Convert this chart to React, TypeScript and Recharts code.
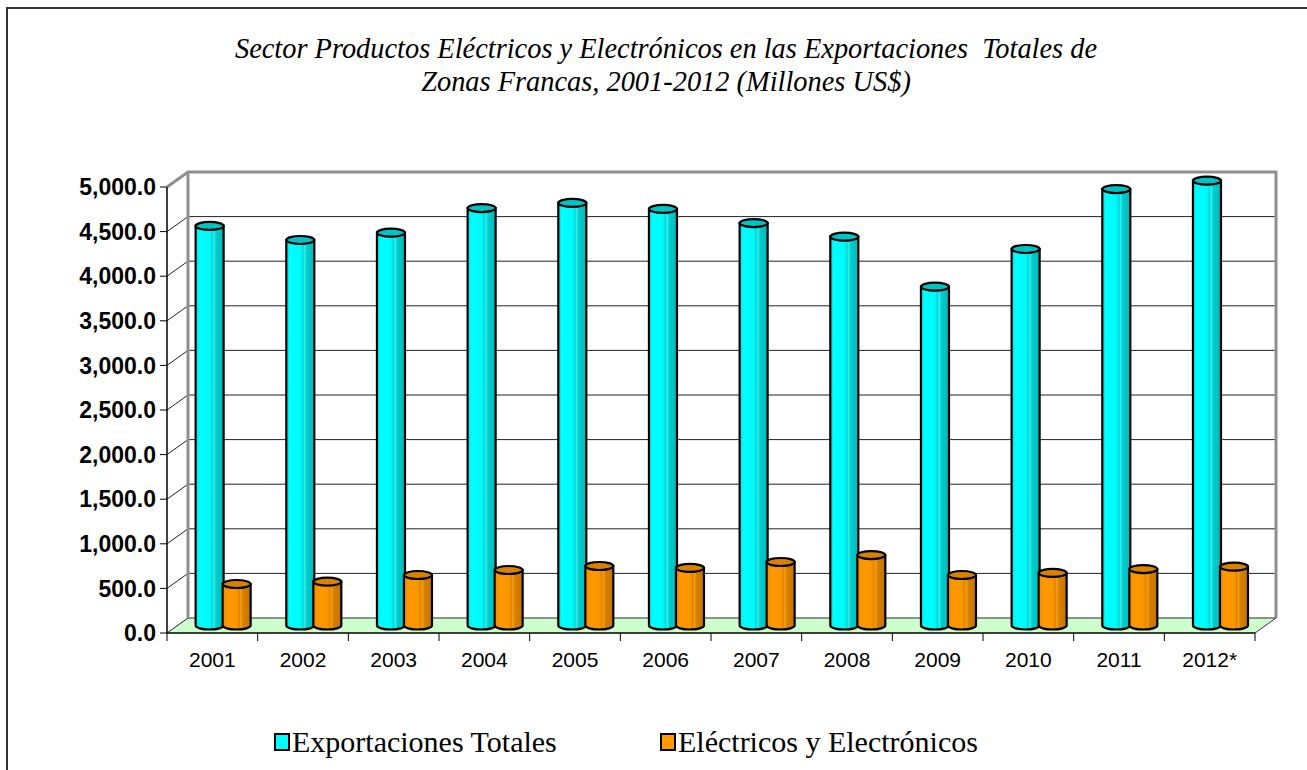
import React from 'react';
import { BarChart, Bar, XAxis, YAxis, ReferenceArea, Legend } from 'recharts';

// ---------- data ----------
const years = ['2001', '2002', '2003', '2004', '2005', '2006', '2007', '2008', '2009', '2010', '2011', '2012*'];
const exportacionesTotales = [4479, 4322, 4404, 4680, 4737, 4670, 4512, 4359, 3798, 4221, 4893, 4987];
const electricosElectronicos = [465, 491, 566, 622, 667, 645, 712, 790, 566, 589, 633, 659];
const yTicks = [0, 500, 1000, 1500, 2000, 2500, 3000, 3500, 4000, 4500, 5000];
const seriesNames = ['Exportaciones Totales', 'Eléctricos y Electrónicos'];
const titleLines = [
  'Sector Productos Eléctricos y Electrónicos en las Exportaciones  Totales de',
  'Zonas Francas, 2001-2012 (Millones US$)',
];

const data = years.map((year, i) => ({
  year,
  total: exportacionesTotales[i],
  elec: electricosElectronicos[i],
}));

// ---------- layout ----------
const W = 1307;
const H = 770;
const X_AXIS_H = 40;
const MARGIN = { top: 187, right: 52, bottom: 137 - X_AXIS_H, left: 0 };
const Y_AXIS_W = 167;
const PLOT_W = W - MARGIN.right - Y_AXIS_W;
const DX = 21; // depth offset (front -> back wall)
const DY = 15;
const BDX = DX / 2; // bars sit mid-depth
const BDY = DY / 2;
const Y_MAX = 5000;
const WALL_GRAY = '#8f8f8f';
const LEG_X = [274, 660];

const fmt = (v: number) =>
  v.toLocaleString('en-US', { minimumFractionDigits: 1, maximumFractionDigits: 1 });

// 3D box: back wall, floor, left wall
const Box3D = (props: any) => {
  const { x, y, width, height } = props;
  const x2 = x + width;
  const yb = y + height;
  const gy = (v: number) => y + height * (1 - v / Y_MAX);
  return (
    <g>
      <polygon
        points={`${x},${yb} ${x2},${yb} ${x2 + DX},${yb - DY} ${x + DX},${yb - DY}`}
        fill="#ccffcc"
        stroke="none"
      />
      {yTicks
        .filter((v) => v > 0 && v < Y_MAX)
        .map((v) => (
          <line key={'g' + v} x1={x + DX} y1={gy(v) - DY} x2={x2 + DX} y2={gy(v) - DY} stroke="#222" strokeWidth={1} />
        ))}
      {yTicks
        .filter((v) => v < Y_MAX)
        .map((v) => (
          <line key={'d' + v} x1={x} y1={gy(v)} x2={x + DX} y2={gy(v) - DY} stroke="#222" strokeWidth={1} />
        ))}
      <line x1={x + DX} y1={yb - DY} x2={x2 + DX} y2={yb - DY} stroke={WALL_GRAY} strokeWidth={2} />
      <polyline
        points={`${x},${y} ${x + DX},${y - DY} ${x2 + DX},${y - DY} ${x2 + DX},${yb - DY}`}
        fill="none"
        stroke={WALL_GRAY}
        strokeWidth={3}
      />
      <line x1={x + DX} y1={y - DY} x2={x + DX} y2={yb - DY} stroke={WALL_GRAY} strokeWidth={3} />
      <line x1={x2} y1={yb} x2={x2 + DX} y2={yb - DY} stroke="#333" strokeWidth={1} />
    </g>
  );
};

const makeCylinder = (gradId: string, topFill: string) => (props: any) => {
  const { x, y, width, height } = props;
  if (width == null || height == null) return <g />;
  const x0 = x + BDX;
  const x1 = x0 + width;
  const yT = y - BDY;
  const yB = y + height - BDY;
  const rx = width / 2;
  const ry = 4;
  const cx = x0 + rx;
  return (
    <g>
      <path
        d={`M${x0},${yT} L${x0},${yB} A${rx},${ry} 0 0 0 ${x1},${yB} L${x1},${yT} Z`}
        fill={`url(#${gradId})`}
        stroke="#000"
        strokeWidth={2.2}
      />
      <ellipse cx={cx} cy={yT} rx={rx} ry={ry} fill={topFill} stroke="#000" strokeWidth={2.2} />
    </g>
  );
};

const CyanCylinder = makeCylinder('gradCyan', '#00c4c4');
const OrangeCylinder = makeCylinder('gradOrange', '#d98200');

const YTick = (props: any) => {
  const { x, y, payload } = props;
  return (
    <text
      x={x}
      y={y}
      dy="0.36em"
      textAnchor="end"
      fontFamily="'Liberation Sans', Arial, sans-serif"
      fontWeight="bold"
      fontSize={23}
      fill="#000"
    >
      {fmt(payload.value)}
    </text>
  );
};

const XTick = (props: any) => {
  const { x, y, payload, index } = props;
  const band = PLOT_W / years.length;
  const left = x - band / 2;
  const right = x + band / 2;
  return (
    <g>
      <line x1={left} y1={y} x2={left} y2={y + 8} stroke="#000" strokeWidth={1} />
      {index === years.length - 1 && <line x1={right} y1={y} x2={right} y2={y + 8} stroke="#000" strokeWidth={1} />}
      <text
        x={x}
        y={y + 34}
        textAnchor="middle"
        fontFamily="'Liberation Sans', Arial, sans-serif"
        fontSize={21}
        fill="#000"
      >
        {payload.value}
      </text>
    </g>
  );
};

const renderLegend = (props: any) => {
  const payload = [...(props.payload || [])].sort(
    (a: any, b: any) => seriesNames.indexOf(a.value) - seriesNames.indexOf(b.value)
  );
  return (
    <div style={{ position: 'relative', width: W, height: 40 }}>
      {payload.map((e: any, i: number) => (
        <div
          key={i}
          style={{
            position: 'absolute',
            left: LEG_X[i],
            top: 0,
            height: 40,
            display: 'flex',
            alignItems: 'center',
            whiteSpace: 'nowrap',
          }}
        >
          <span
            style={{
              display: 'inline-block',
              width: 12,
              height: 14,
              background: e.color,
              border: '2px solid #000',
              marginRight: 2,
            }}
          />
          <span style={{ fontFamily: "'Liberation Serif', 'Times New Roman', serif", fontSize: 30, color: '#000' }}>
            {e.value}
          </span>
        </div>
      ))}
    </div>
  );
};

export default function App() {
  return (
    <div style={{ position: 'absolute', left: 0, top: 0, width: W, height: H, overflow: 'hidden', background: '#fff' }}>
      <div style={{ position: 'absolute', left: 6, top: 7, width: W, height: 2, background: '#333' }} />
      <div style={{ position: 'absolute', left: 6, top: 7, width: 2, height: H, background: '#333' }} />
      <div
        style={{
          position: 'absolute',
          left: 0,
          top: 32,
          width: 1332,
          textAlign: 'center',
          fontFamily: "'Liberation Serif', 'Times New Roman', serif",
          fontStyle: 'italic',
          fontSize: 28.4,
          lineHeight: '33px',
          color: '#000',
          whiteSpace: 'pre',
        }}
      >
        {titleLines.map((t, i) => (
          <div key={i}>{t}</div>
        ))}
      </div>
      <div style={{ position: 'absolute', left: 0, top: 0 }}>
        <BarChart
          width={W}
          height={H}
          data={data}
          margin={MARGIN}
          barCategoryGap="20%"
          barGap={-1}
        >
          <defs>
            <linearGradient id="gradCyan" x1="0" y1="0" x2="1" y2="0">
              <stop offset="0%" stopColor="#00e6e6" />
              <stop offset="15%" stopColor="#00ffff" />
              <stop offset="50%" stopColor="#00f8f8" />
              <stop offset="60%" stopColor="#00dcdc" />
              <stop offset="66%" stopColor="#40eaea" />
              <stop offset="72%" stopColor="#00d0d0" />
              <stop offset="100%" stopColor="#00b8b8" />
            </linearGradient>
            <linearGradient id="gradOrange" x1="0" y1="0" x2="1" y2="0">
              <stop offset="0%" stopColor="#f08c00" />
              <stop offset="20%" stopColor="#ff9900" />
              <stop offset="50%" stopColor="#fa9600" />
              <stop offset="60%" stopColor="#e08600" />
              <stop offset="66%" stopColor="#f5a020" />
              <stop offset="72%" stopColor="#d98000" />
              <stop offset="100%" stopColor="#c47400" />
            </linearGradient>
          </defs>
          <ReferenceArea y1={0} y2={Y_MAX} shape={Box3D} zIndex={-200} ifOverflow="visible" />
          <XAxis
            dataKey="year"
            axisLine={{ stroke: '#000', strokeWidth: 1.5 }}
            tickLine={false}
            tickSize={0}
            tickMargin={0}
            tick={XTick}
            interval={0}
            height={X_AXIS_H}
          />
          <YAxis
            width={Y_AXIS_W}
            domain={[0, Y_MAX]}
            ticks={yTicks}
            interval={0}
            axisLine={{ stroke: '#000', strokeWidth: 1.5 }}
            tickLine={{ stroke: '#000', strokeWidth: 1 }}
            tickSize={7}
            tickMargin={4}
            tick={YTick}
          />
          <Bar dataKey="total" name={seriesNames[0]} fill="#00ffff" shape={CyanCylinder} isAnimationActive={false} />
          <Bar dataKey="elec" name={seriesNames[1]} fill="#ff9900" shape={OrangeCylinder} isAnimationActive={false} />
          <Legend
            verticalAlign="middle"
            align="center"
            layout="horizontal"
            wrapperStyle={{ top: 722, left: 0, width: W, height: 40 }}
            content={renderLegend}
          />
        </BarChart>
      </div>
    </div>
  );
}
